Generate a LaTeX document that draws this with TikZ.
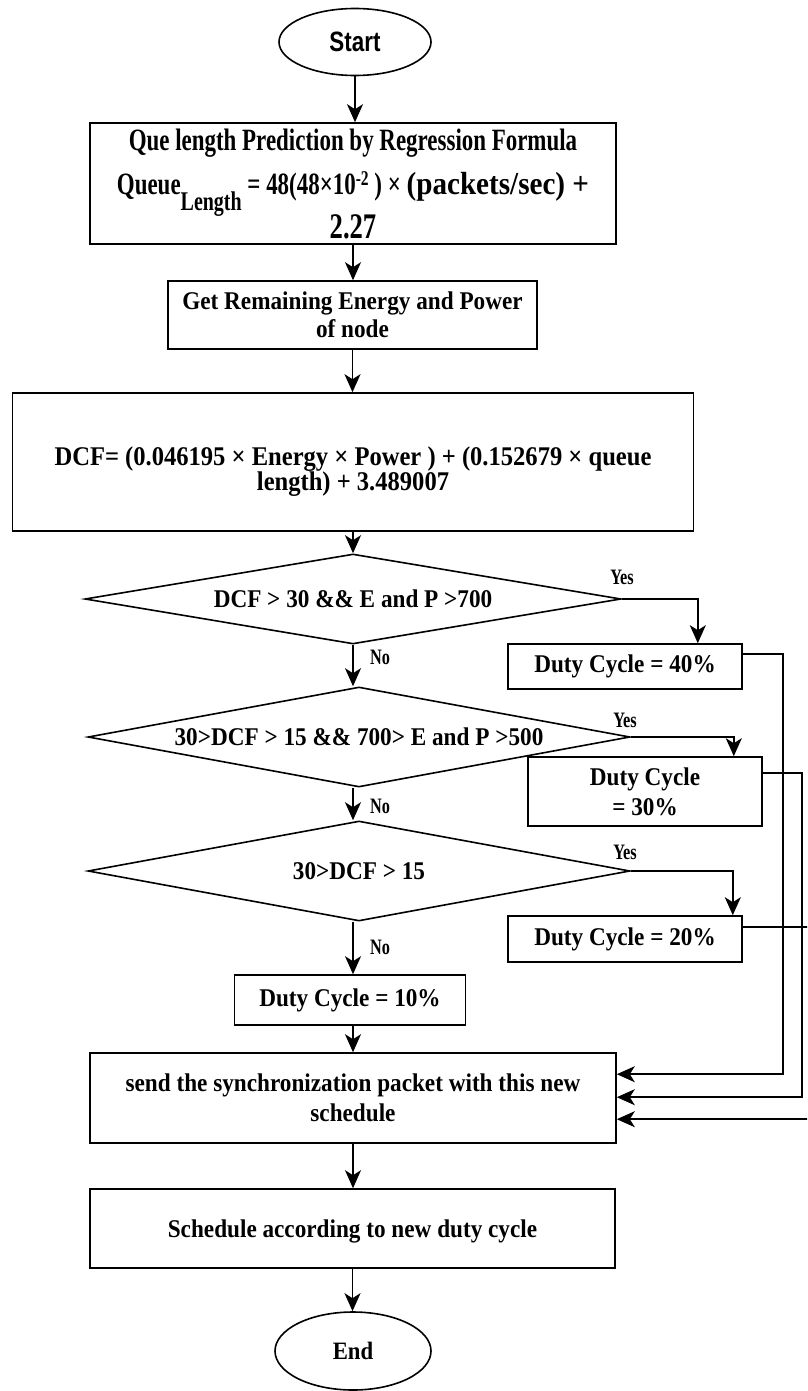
\documentclass[tikz,border=0pt]{standalone}
\usepackage{fontspec}
\setmainfont{Liberation Serif}[FakeStretch=0.91]
\newfontfamily\mainf{Liberation Serif}[FakeStretch=0.91]
\newfontfamily\tallfont{Liberation Serif}[FakeStretch=0.74]
\newfontfamily\startfont{Liberation Sans}[FakeStretch=0.8]
\usetikzlibrary{shapes.geometric,arrows.meta,calc}
\newcommand{\fsz}[2]{\fontsize{#1}{#2}\selectfont}
\begin{document}
\begin{tikzpicture}[x=1pt,y=-1pt,
  box/.style={draw, line width=1.6pt, rectangle, inner sep=0pt, align=center, font=\bfseries\fsz{25.5}{28}},
  dia/.style={draw, line width=1.6pt, diamond, shape aspect=5.4, inner sep=0pt, align=center, font=\bfseries\fsz{25.5}{28}},
  term/.style={draw, line width=1.6pt, ellipse, inner sep=0pt},
  arr/.style={line width=1.6pt, -{Stealth[length=18pt,width=16pt,inset=5pt]}},
  lbl/.style={font=\tallfont\bfseries\fsz{22}{22}, inner sep=0pt},
]
\useasboundingbox (0,0) rectangle (807,1391);
\clip (0,0) rectangle (807,1391);

% nodes
\node[term, minimum width=152pt, minimum height=67pt, font=\startfont\bfseries\fsz{28}{28}] (start) at (355,42) {Start};

\node[box, minimum width=526pt, minimum height=121pt, font=\tallfont\bfseries\fsz{31}{44}] (b1) at (353,183.5)
 {Que length Prediction by Regression Formula\\
  Queue\raisebox{-16pt}[0pt][0pt]{\fsz{27}{27}Length} = 48(48×10\raisebox{9pt}[0pt][0pt]{\fsz{21}{21}-2} ) × {\mainf\fsz{32}{32}(packets/sec) +}\\
  {\fsz{36}{44}2.27}};

\node[box, minimum width=369pt, minimum height=68pt] (b2) at (352.5,315)
 {Get Remaining Energy and Power\\ of node};

\node[box, minimum width=681pt, minimum height=138pt, font=\bfseries\fsz{27}{23}] (b3) at (353,462)
 {\raisebox{-10pt}[\height][\depth]{\begin{tabular}{@{}c@{}}DCF= (0.046195 × Energy × Power ) + (0.152679 × queue\\ length) + 3.489007\end{tabular}}};

\node[dia, minimum width=536pt, minimum height=90pt] (d1) at (353,599) {DCF > 30 \&\& E and P >700};
\node[dia, minimum width=542pt, minimum height=100pt] (d2) at (359,737) {30>DCF > 15 \&\& 700> E and P >500};
\node[dia, minimum width=542pt, minimum height=100pt] (d3) at (359,871) {30>DCF > 15};

\node[box, minimum width=234pt, minimum height=45pt] (b40) at (625,666.5) {Duty Cycle = 40\%};
\node[box, minimum width=234pt, minimum height=69pt, font=\bfseries\fsz{25.5}{30}] (b30) at (645,791.5) {Duty Cycle\\ = 30\%};
\node[box, minimum width=234pt, minimum height=46pt] (b20) at (625,939) {Duty Cycle = 20\%};
\node[box, minimum width=231pt, minimum height=50pt] (b10) at (350,1000) {Duty Cycle = 10\%};

\node[box, minimum width=526pt, minimum height=90pt, font=\bfseries\fsz{25.5}{30}] (sync) at (353,1098)
 {send the synchronization packet with this new\\ schedule};
\node[box, minimum width=525pt, minimum height=79pt] (sched) at (352.5,1228.5)
 {\raisebox{-3pt}[\height][\depth]{Schedule according to new duty cycle}};
\node[term, minimum width=156pt, minimum height=78pt, font=\bfseries\fsz{25}{25}] (end) at (353,1351) {End};

% labels
\node[lbl] (y1) at (622,577) {Yes};
\node[lbl] (y2) at (625,720) {Yes};
\node[lbl] (y3) at (625,852) {Yes};
\node[lbl] (n1) at (380,657) {No};
\node[lbl] (n2) at (380,806) {No};
\node[lbl] (n3) at (380,947) {No};

% main flow
\draw[arr] (start.south) -- (start.south |- b1.north);
\draw[arr] (b1.south) -- (b1.south |- b2.north);
\draw[arr] (b2.south) -- (b2.south |- b3.north);
\draw[arr] (b3.south) -- (b3.south |- d1.north);
\draw[arr] (d1.south) -- (d1.south |- d2.north);
\draw[arr] (d2.south -| d1.south) -- (d3.north -| d1.south);
\draw[arr] (d3.south -| d1.south) -- (b10.north -| d1.south);
\draw[arr] (b10.south -| d1.south) -- (sync.north -| d1.south);
\draw[arr] (sync.south) -- (sync.south |- sched.north);
\draw[arr] (sched.south) -- (sched.south |- end.north);

% yes branches
\draw[arr] (d1.east) -| ($(b40.north east)+(-45,0)$);
\draw[arr] (d2.east) -| ($(b30.north east)+(-29,0)$);
\draw[arr] (d3.east) -| ($(b20.north east)+(-10,0)$);

% feedback to sync
\draw[arr] ($(b40.north east)+(0,11)$) -- ++(40,0) |- ($(sync.north east)+(0,22)$);
\draw[arr] ($(b30.north east)+(0,17)$) -- ++(39,0) |- ($(sync.north east)+(0,45)$);
\draw[arr] ($(b20.north east)+(0,12)$) -- ++(75,0) |- ($(sync.north east)+(0,67)$);
\end{tikzpicture}
\end{document}
